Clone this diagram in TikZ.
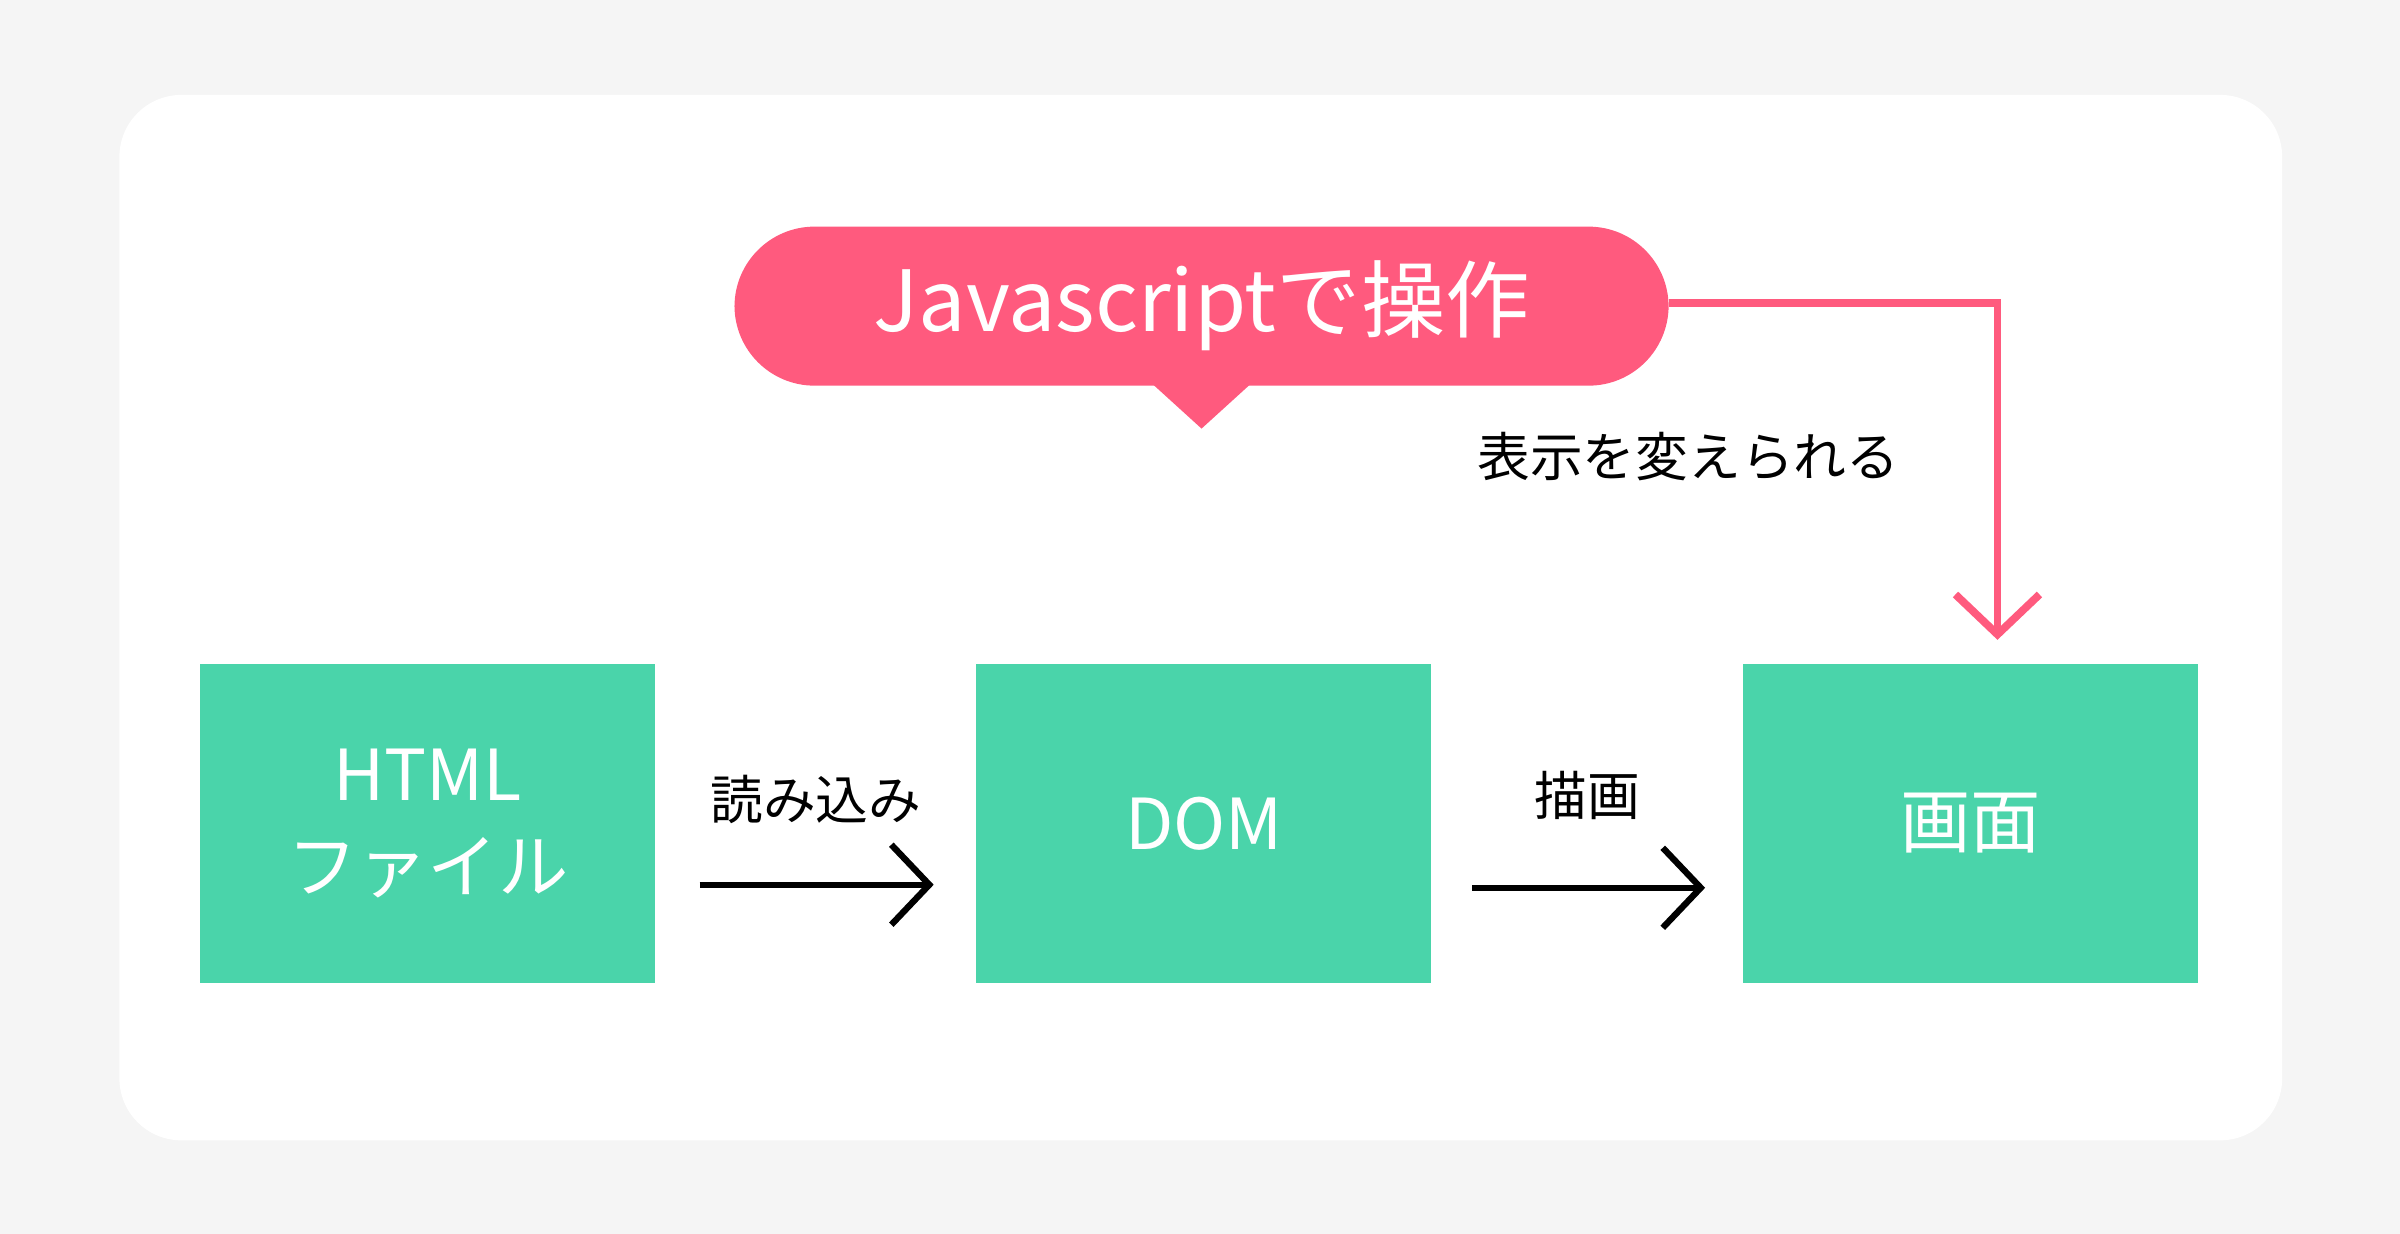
\documentclass[tikz,border=0pt]{standalone}
\usepackage{fontspec}
\setmainfont{Noto Sans CJK JP}
\usetikzlibrary{arrows.meta,positioning}
\definecolor{bggray}{HTML}{F5F5F5}
\definecolor{pinkred}{HTML}{FF5A7E}
\definecolor{mint}{HTML}{4AD4AA}
\tikzset{
  box/.style={fill=mint,minimum width=4.55cm,minimum height=3.18cm,text=white,align=center,font=\fontsize{20}{26}\selectfont},
  lbl/.style={font=\fontsize{15}{18}\selectfont},
  flow/.style={line width=1.8pt,-{Straight Barb[length=0.38cm,width=0.8cm,line width=1.8pt]}}
}
\begin{document}
\begin{tikzpicture}[x=0.015306cm,y=-0.015306cm]
	\fill[bggray] (0,0) rectangle (1568,806);
	\fill[white,rounded corners=0.62cm] (78,62) rectangle (1491,745);
	% boxes
	\node[box] (html) at (279.5,538) {HTML\\ファイル};
	\node[box] (dom) at (786.5,538) {DOM};
	\node[box] (scr) at (1287.5,538) {画面};
	% arrows
	\draw[flow] (457,578) -- (610,578);
	\node[lbl] (read) at (533,522) {読み込み};
	\draw[flow] (962,580) -- (1114,580);
	\node[lbl] (draw) at (1037,520) {描画};
	% javascript bubble
	\fill[pinkred] (752,250) -- (785,280) -- (818,250) -- cycle;
	\node[fill=pinkred,rounded corners=0.8cm,minimum width=9.34cm,minimum height=1.59cm,text=white,font=\fontsize{24}{28}\selectfont] (js) at (785,200) {Javascriptで操作};
	\coordinate (tip) at (1305,418);
	\draw[pinkred,line width=2.2pt,-{Straight Barb[length=0.4cm,width=0.84cm,line width=2.2pt]}] (js.east |- 0,198) -| (tip);
	\node[lbl] (change) at (1103,298) {表示を変えられる};
\end{tikzpicture}
\end{document}
